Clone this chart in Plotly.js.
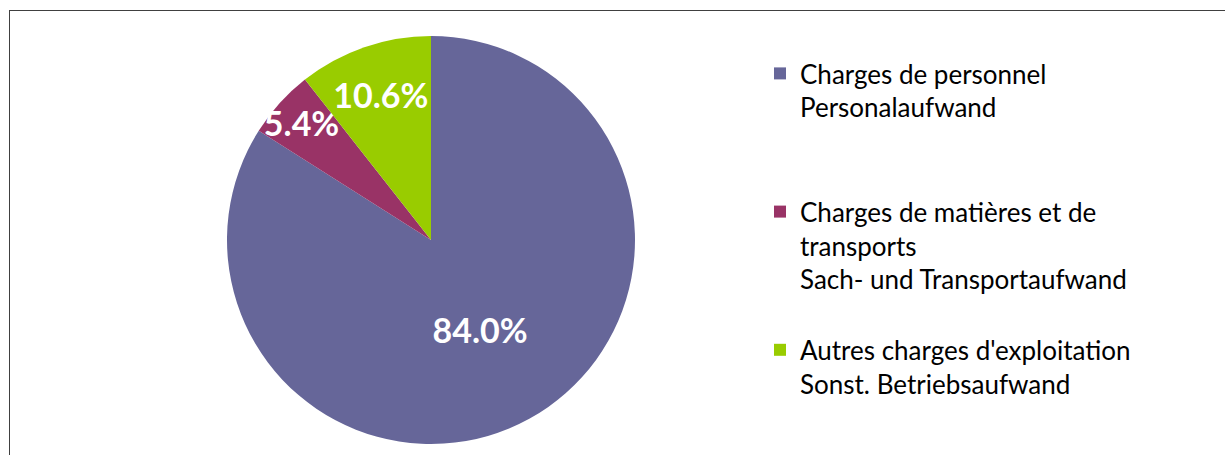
<!DOCTYPE html>
<html>
<head>
<meta charset="utf-8">
<script src="https://cdn.plot.ly/plotly-3.0.1.min.js"></script>
<style>
  html, body { margin: 0; padding: 0; background: #fff; overflow: hidden; }
  #frame { position: absolute; left: 9px; top: 10px; width: 1300px; height: 600px;
           border: 1.5px solid #404040; box-sizing: border-box; }
  #chart { position: absolute; left: 0; top: 0; width: 1225px; height: 455px; }
</style>
</head>
<body>
<div id="frame"></div>
<div id="chart"></div>
<script>
const categories = [
  "Charges de personnel<br>Personalaufwand",
  "Charges de matières et de<br>transports<br>Sach- und Transportaufwand",
  "Autres charges d'exploitation<br>Sonst. Betriebsaufwand"
];
const shares = [84.0, 5.4, 10.6];
const colors = ["#666699", "#993366", "#99CC00"];

const W = 1225, H = 455;
const cx = 431, r = 204;

// pad every legend entry to the same 4-line slot
const legendLabels = categories.map((c, i) => {
  const n = c.split("<br>").length;
  let s = c;
  if (i < categories.length - 1) for (let k = n; k < 4; k++) s += "<br> ";
  return s;
});

const trace = {
  type: "pie",
  labels: legendLabels,
  values: shares,
  sort: false,
  direction: "clockwise",
  rotation: 0,
  marker: { colors: colors, line: { width: 0 } },
  texttemplate: "%{percent:.1%}",
  textposition: "inside",
  insidetextorientation: "horizontal",
  textfont: { family: "Lato", size: 34, color: "#ffffff", weight: "bold" },
  domain: { x: [(cx - r) / W, (cx + r) / W], y: [0, 1] },
  hoverinfo: "none"
};

const layout = {
  width: W, height: H,
  margin: { l: 0, r: 0, t: 36, b: 11 },
  paper_bgcolor: "rgba(0,0,0,0)",
  plot_bgcolor: "rgba(0,0,0,0)",
  showlegend: true,
  uniformtext: { mode: "show", minsize: 34 },
  legend: {
    x: 760 / W, xanchor: "left",
    y: 1 - 14 / 408, yanchor: "top",
    valign: "top",
    font: { family: "Lato", size: 26, color: "#000000" },
    tracegroupgap: 0,
    itemclick: false, itemdoubleclick: false,
    bgcolor: "rgba(0,0,0,0)"
  },
  font: { family: "Lato" }
};

Plotly.newPlot("chart", [trace], layout, { displayModeBar: false, staticPlot: true });
</script>
</body>
</html>
